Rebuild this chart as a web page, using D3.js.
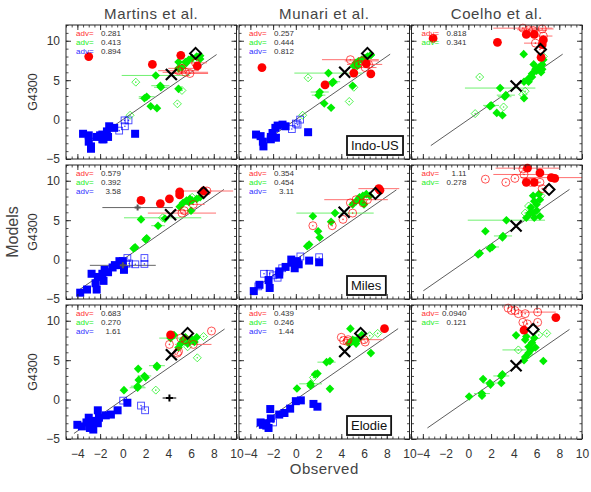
<!DOCTYPE html>
<html>
<head>
<meta charset="utf-8">
<script src="https://cdn.jsdelivr.net/npm/d3@7"></script>
<style>
  body { margin: 0; background: #fff; }
  text { font-family: "Liberation Sans", Arial, sans-serif; }
</style>
</head>
<body>
<div id="chart"></div>
<script>
// Datos: [serie, observado, modelo, error x]
// series: Bf/Bo azul lleno/abierto, Gf/Go verde, Rf/Ro rojo, K gris, P cruz negra
const models = ["Martins et al.", "Munari et al.", "Coelho et al."];
const libraries = ["Indo-US", "Miles", "Elodie"];
const xTicks = [-4, -2, 0, 2, 4, 6, 8, 10];
const yTicks = [-5, 0, 5, 10];

const martinsIndo = [
  ["Rf", -3.0, 8.0], ["Rf", 2.6, 7.0], ["Rf", 5.1, 8.15], ["Rf", 6.55, 6.8],
  ["Ro", 4.9, 6.2, 1.8], ["Ro", 5.5, 6.0, 2.0], ["Ro", 5.9, 5.85, 1.6], ["Ro", 6.4, 7.2, 1.0], ["Ro", 5.2, 6.5, 1.2],
  ["Gf", 2.9, 5.6, 3.0], ["Gf", 3.3, 4.3, 0.8], ["Gf", 3.35, 4.1, 0.6], ["Gf", 2.1, 2.9, 0.7], ["Gf", 1.9, 2.7, 0.5],
  ["Gf", 2.45, 1.7], ["Gf", 3.0, 1.45], ["Gf", 4.9, 7.3], ["Gf", 4.9, 6.5], ["Gf", 5.2, 6.6], ["Gf", 5.5, 7.3],
  ["Gf", 5.8, 7.6], ["Gf", 6.1, 7.8], ["Gf", 6.5, 8.0], ["Gf", 6.8, 8.1], ["Gf", 6.8, 7.7], ["Gf", 5.6, 7.2], ["Gf", 4.9, 3.9],
  ["Go", 1.14, 4.75], ["Go", 5.2, 3.7], ["Go", 4.8, 2.0], ["Go", 0.64, 0.55], ["Go", 6.5, 7.5],
  ["Bf", -3.5, -1.8], ["Bf", -3.0, -2.0], ["Bf", -3.0, -2.8], ["Bf", -2.8, -3.4], ["Bf", -2.8, -3.7], ["Bf", -2.3, -2.2],
  ["Bf", -1.8, -1.9], ["Bf", -1.7, -2.5], ["Bf", -1.4, -1.5], ["Bf", -1.2, -0.85], ["Bf", -0.76, -1.05], ["Bf", -1.8, -2.5],
  ["Bf", 1.08, -1.8], ["Bf", -1.3, -2.2], ["Bf", -2.0, -2.0],
  ["Bo", -0.32, -1.4], ["Bo", 0.18, -0.85], ["Bo", 0.5, -0.1], ["Bo", 0.15, -0.1]
];
const munariIndo = [
  ["Rf", -2.98, 6.6], ["Rf", 2.57, 4.4], ["Rf", 5.1, 5.9], ["Rf", 6.6, 5.8], ["Rf", 6.2, 7.1],
  ["Ro", 4.8, 7.6, 2.5], ["Ro", 5.8, 7.45, 1.5], ["Ro", 6.1, 6.6, 1.0], ["Ro", 6.4, 7.0, 1.2], ["Ro", 5.5, 7.0, 1.0],
  ["Gf", 2.87, 5.9, 3.0], ["Gf", 3.3, 4.8, 0.6], ["Gf", 3.2, 4.65, 0.5], ["Gf", 2.1, 3.5, 0.8], ["Gf", 2.0, 3.1, 0.6],
  ["Gf", 2.5, 2.04], ["Gf", 3.1, 1.5], ["Gf", 5.0, 4.3], ["Gf", 5.1, 6.8], ["Gf", 5.3, 7.2], ["Gf", 5.5, 7.4],
  ["Gf", 5.8, 7.6], ["Gf", 6.1, 7.8], ["Gf", 6.3, 8.0], ["Gf", 5.4, 6.8], ["Gf", 6.6, 8.2],
  ["Go", 1.08, 5.3], ["Go", 4.7, 2.3], ["Go", 5.1, 4.1], ["Go", 0.6, 0.55], ["Go", 6.6, 8.2],
  ["Bf", -3.5, -1.9], ["Bf", -3.1, -2.1], ["Bf", -2.9, -2.8], ["Bf", -2.85, -3.4], ["Bf", -2.2, -2.2], ["Bf", -2.05, -1.7],
  ["Bf", -1.8, -1.05], ["Bf", -1.6, -0.76], ["Bf", -1.17, -0.64], ["Bf", -0.9, -0.85], ["Bf", -2.2, -2.5], ["Bf", -1.75, -2.3],
  ["Bf", 1.08, -1.6],
  ["Bo", -0.35, -1.2], ["Bo", 0.15, -0.64], ["Bo", 0.38, 0.0], ["Bo", 0.0, -0.5]
];
const coelhoIndo = [
  ["Rf", -3.1, 10.3], ["Rf", 2.56, 9.8], ["Rf", 5.1, 10.8], ["Rf", 6.6, 10.1], ["Rf", 6.5, 9.5], ["Rf", 6.4, 7.9], ["Rf", 5.8, 10.8],
  ["Ro", 4.8, 11.6, 2.6], ["Ro", 5.7, 11.3, 1.2], ["Ro", 6.5, 11.5, 1.0], ["Ro", 5.9, 9.7, 1.0], ["Ro", 6.3, 8.9],
  ["Ro", 5.3, 11.4, 1.0], ["Ro", 6.6, 10.6, 0.8],
  ["Gf", 4.87, 8.3], ["Gf", 2.8, 4.0, 3.1], ["Gf", 3.3, 3.1, 0.8], ["Gf", 3.2, 2.9, 0.6], ["Gf", 2.0, 1.8, 0.7], ["Gf", 1.9, 1.7, 0.5],
  ["Gf", 2.5, 0.85], ["Gf", 3.0, 0.55], ["Gf", 4.9, 2.7], ["Gf", 4.9, 4.8], ["Gf", 5.3, 4.8], ["Gf", 5.6, 5.8], ["Gf", 5.9, 6.4],
  ["Gf", 5.75, 7.0], ["Gf", 6.2, 6.6], ["Gf", 6.4, 6.0], ["Gf", 6.5, 7.0], ["Gf", 6.6, 7.6], ["Gf", 5.6, 5.4], ["Gf", 6.0, 6.2],
  ["Gf", 6.5, 6.4], ["Gf", 5.3, 5.2],
  ["Go", 1.0, 5.4], ["Go", 5.0, 3.6], ["Go", 4.8, 3.2], ["Go", 3.1, 1.6], ["Go", 0.6, 0.76], ["Go", 6.6, 8.0]
];
const martinsMiles = [
  ["Rf", 1.6, 7.5], ["Rf", 3.3, 7.1], ["Rf", 4.1, 7.7], ["Rf", 5.0, 8.6], ["Rf", 5.0, 8.2], ["Rf", 7.1, 8.7],
  ["Ro", 5.2, 5.9, 3.0], ["Ro", 6.2, 7.0, 1.0], ["Ro", 7.4, 8.7, 2.3], ["Ro", 7.0, 8.5], ["Ro", 5.4, 6.2, 1.0],
  ["Gf", 1.6, 5.1], ["Gf", 3.1, 4.3, 0.6], ["Gf", 2.1, 2.7], ["Gf", 2.0, 2.55], ["Gf", 1.08, 1.57], ["Gf", 0.95, 1.4],
  ["Gf", 3.7, 5.2], ["Gf", 5.0, 6.7], ["Gf", 5.3, 7.2], ["Gf", 5.6, 7.5], ["Gf", 5.9, 7.7], ["Gf", 6.1, 7.5], ["Gf", 6.0, 6.2],
  ["Gf", 6.5, 7.7], ["Gf", 6.8, 7.9], ["Gf", 5.8, 7.3],
  ["Go", 3.5, 5.3, 3.4], ["Go", 6.1, 7.9],
  ["Bf", -3.75, -4.2], ["Bf", -3.15, -3.8], ["Bf", -2.75, -1.8], ["Bf", -2.4, -3.0], ["Bf", -2.3, -3.8], ["Bf", -2.2, -2.2],
  ["Bf", -1.8, -1.8], ["Bf", -1.6, -1.3], ["Bf", -1.7, -2.7], ["Bf", -1.3, -1.6], ["Bf", -0.9, -1.0], ["Bf", -0.3, -0.2],
  ["Bf", -0.2, -0.7], ["Bf", 0.1, -1.3], ["Bf", 0.0, -0.2], ["Bf", -0.7, -0.7],
  ["Bo", 0.4, 0.2], ["Bo", 0.55, -0.5], ["Bo", 1.1, -0.6], ["Bo", 1.9, 0.2], ["Bo", 1.9, -0.55], ["Bo", 0.3, -0.5],
  ["K", 1.3, 6.6, 3.1], ["K", 0.0, -0.73, 2.9]
];
const munariMiles = [
  ["Rf", 7.3, 9.0, 1.8], ["Rf", 7.4, 8.8],
  ["Ro", 1.5, 4.3], ["Ro", 3.2, 4.3], ["Ro", 4.15, 5.1], ["Ro", 5.0, 5.9], ["Ro", 4.8, 7.2], ["Ro", 5.3, 7.6, 2.8],
  ["Ro", 5.9, 7.2], ["Ro", 6.3, 7.6],
  ["Gf", 1.5, 5.5], ["Gf", 3.45, 5.9, 3.4], ["Gf", 3.1, 4.8], ["Gf", 1.96, 3.6], ["Gf", 2.1, 2.8], ["Gf", 1.17, 1.9],
  ["Gf", 1.0, 1.7], ["Gf", 5.0, 7.0], ["Gf", 5.3, 7.4], ["Gf", 5.6, 7.9], ["Gf", 5.9, 8.1], ["Gf", 6.2, 8.3], ["Gf", 6.0, 7.0],
  ["Gf", 5.7, 7.4], ["Gf", 6.5, 8.1],
  ["Bf", -3.7, -4.0], ["Bf", -3.2, -3.2], ["Bf", -2.4, -2.6], ["Bf", -2.3, -3.6], ["Bf", -1.46, -1.9], ["Bf", -1.46, -1.5],
  ["Bf", -0.9, -0.93], ["Bf", -0.3, -0.4], ["Bf", -0.1, -1.1], ["Bf", 0.1, -0.2], ["Bf", 0.25, -0.6], ["Bf", 1.17, -0.13],
  ["Bf", 2.05, -0.34], ["Bf", -0.4, 0.0],
  ["Bo", -2.8, -1.8], ["Bo", -2.3, -1.8], ["Bo", -1.6, -2.3], ["Bo", -1.2, -1.1], ["Bo", 0.4, 0.4], ["Bo", 2.05, 0.3],
  ["Bo", -3.3, -3.4], ["Bo", -2.0, -2.0]
];
const coelhoMiles = [
  ["Rf", 5.2, 11.6, 2.8], ["Rf", 6.3, 11.0], ["Rf", 7.3, 10.4, 2.7], ["Rf", 7.6, 10.3], ["Rf", 5.1, 9.8], ["Rf", 5.8, 9.8],
  ["Ro", 1.5, 10.2], ["Ro", 3.3, 9.8], ["Ro", 4.1, 10.3], ["Ro", 4.9, 10.8, 2.7], ["Ro", 4.8, 11.5], ["Ro", 5.5, 9.8],
  ["Ro", 6.3, 9.8], ["Ro", 6.5, 9.0],
  ["Gf", 3.35, 5.0, 3.4], ["Gf", 1.5, 3.6], ["Gf", 3.05, 3.0, 0.8], ["Gf", 3.0, 2.8], ["Gf", 2.1, 1.6, 0.6], ["Gf", 1.9, 1.4],
  ["Gf", 0.86, 0.64], ["Gf", 1.0, 0.8], ["Gf", 5.7, 8.1], ["Gf", 5.8, 7.4], ["Gf", 5.5, 6.6], ["Gf", 6.0, 7.0], ["Gf", 6.3, 7.6],
  ["Gf", 5.4, 5.9], ["Gf", 5.1, 5.3], ["Gf", 5.8, 5.3], ["Gf", 6.3, 5.5], ["Gf", 6.0, 6.2], ["Gf", 5.7, 5.9], ["Gf", 6.2, 8.3],
  ["Go", 5.3, 6.8], ["Go", 5.9, 6.4], ["Go", 6.4, 8.1], ["Go", 5.0, 5.9]
];
const martinsElodie = [
  ["Rf", 4.2, 8.2],
  ["Ro", 7.8, 8.7], ["Ro", 6.2, 7.0, 1.6], ["Ro", 4.1, 7.0], ["Ro", 4.8, 5.9], ["Ro", 4.9, 6.1], ["Ro", 5.5, 7.6], ["Ro", 5.1, 7.8],
  ["Gf", 0.1, 1.2], ["Gf", 1.3, 1.7, 0.6], ["Gf", 1.3, 1.5, 0.7], ["Gf", 1.4, 2.5], ["Gf", 1.35, 3.9], ["Gf", 1.9, 3.0, 0.6],
  ["Gf", 2.0, 2.8], ["Gf", 3.0, 4.3, 0.7], ["Gf", 3.0, 4.15], ["Gf", 4.2, 7.8, 1.0], ["Gf", 4.9, 6.6], ["Gf", 5.1, 7.1],
  ["Gf", 5.3, 7.6], ["Gf", 5.5, 7.9], ["Gf", 5.7, 7.1], ["Gf", 6.1, 7.6], ["Gf", 6.3, 7.3], ["Gf", 6.5, 7.9], ["Gf", 4.5, 8.2],
  ["Go", 2.9, 1.2], ["Go", 6.55, 5.3], ["Go", 7.1, 8.0], ["Go", 5.7, 6.7],
  ["Bf", -4.0, -3.2], ["Bf", -3.6, -3.4], ["Bf", -3.2, -2.9], ["Bf", -2.9, -3.6], ["Bf", -2.6, -3.8], ["Bf", -2.5, -2.9],
  ["Bf", -2.8, -2.7], ["Bf", -2.2, -1.36], ["Bf", -2.2, -3.0], ["Bf", -1.5, -2.0], ["Bf", -1.05, -1.9], ["Bf", -0.46, -1.36],
  ["Bf", 0.4, -0.4], ["Bf", -3.0, -2.3], ["Bf", -2.1, -2.3],
  ["Bo", 0.03, -0.13], ["Bo", 1.6, -0.76], ["Bo", 1.96, -1.36],
  ["P", 4.1, 0.2, 0.6]
];
const munariElodie = [
  ["Rf", 7.8, 9.0],
  ["Ro", 4.0, 7.9], ["Ro", 4.2, 7.5], ["Ro", 4.5, 7.4], ["Ro", 6.0, 7.6, 1.7], ["Ro", 6.1, 7.3], ["Ro", 4.6, 7.6],
  ["Gf", 4.8, 9.0], ["Gf", 0.1, 1.4], ["Gf", 1.3, 2.0, 1.0], ["Gf", 1.3, 1.75], ["Gf", 1.7, 3.2], ["Gf", 1.9, 3.3],
  ["Gf", 2.7, 4.75, 0.8], ["Gf", 3.0, 4.9], ["Gf", 3.0, 1.36], ["Gf", 6.6, 5.9], ["Gf", 4.9, 7.3], ["Gf", 5.2, 7.5],
  ["Gf", 5.5, 7.7], ["Gf", 5.8, 8.2], ["Gf", 5.3, 7.1], ["Gf", 5.0, 7.6], ["Gf", 4.7, 7.1],
  ["Go", 1.55, 2.8], ["Go", 7.2, 8.4], ["Go", 6.5, 8.1],
  ["Bf", -3.1, -2.9], ["Bf", -2.7, -3.0], ["Bf", -2.4, -3.6], ["Bf", -2.2, -2.4], ["Bf", -2.25, -1.2], ["Bf", -1.46, -1.9],
  ["Bf", -1.0, -1.7], ["Bf", -0.5, -1.15], ["Bf", 0.0, -0.2], ["Bf", 0.44, -0.1], ["Bf", 1.55, -0.55], ["Bf", 1.9, -0.9],
  ["Bf", -2.6, -3.3], ["Bf", -2.9, -3.2],
  ["Bo", -2.0, -2.9]
];
const coelhoElodie = [
  ["Rf", 7.7, 10.4], ["Rf", 4.9, 8.8],
  ["Ro", 3.5, 11.6], ["Ro", 4.1, 11.3], ["Ro", 4.4, 10.9], ["Ro", 6.1, 11.1, 1.6], ["Ro", 4.8, 9.8], ["Ro", 5.2, 9.6],
  ["Ro", 6.1, 9.8], ["Ro", 3.8, 11.3], ["Ro", 5.0, 10.9],
  ["Gf", 4.2, 8.15], ["Gf", 0.07, 0.4], ["Gf", 1.2, 0.76, 0.7], ["Gf", 1.2, 0.5], ["Gf", 1.3, 2.6], ["Gf", 1.9, 2.1, 0.6],
  ["Gf", 1.95, 1.9], ["Gf", 2.9, 2.1], ["Gf", 2.9, 3.0, 0.7], ["Gf", 3.0, 3.2], ["Gf", 6.6, 4.9], ["Gf", 5.0, 7.6],
  ["Gf", 5.3, 6.7], ["Gf", 5.3, 5.9], ["Gf", 5.0, 5.4], ["Gf", 5.6, 7.2], ["Gf", 5.5, 6.3], ["Gf", 5.8, 7.8], ["Gf", 5.9, 6.6],
  ["Gf", 4.9, 5.0], ["Gf", 5.1, 8.0],
  ["Go", 4.4, 6.3, 1.4], ["Go", 6.9, 8.4], ["Go", 6.2, 8.2], ["Go", 5.3, 5.7]
];

// Sol (X) y Arcturus (rombo negro) por panel
const sunPoints = [[[4.27, 5.73], [4.3, 6.0], [4.2, 4.25]], [[4.2, 5.7], [4.25, 6.0], [4.2, 4.25]], [[4.27, 5.7], [4.3, 6.1], [4.2, 4.3]]];
const arcturusPoints = [[[6.4, 8.4], [6.3, 8.4], [6.35, 8.9]], [[7.1, 8.5], [7.0, 8.4], [7.1, 8.9]], [[5.7, 8.4], [5.7, 8.4], [5.7, 8.9]]];
// recta 1:1, rango en observado
const lineRange = [[[-2.9, 8.25], [-2.87, 8.3], [-3.3, 8.3]], [[-4.0, 8.9], [-3.95, 8.85], [-3.96, 8.9]], [[-4.3, 8.95], [-3.5, 9.0], [-3.6, 8.9]]];
// adv: rojo, verde, azul
const advIndo = [["0.281", "0.413", "0.894"], ["0.257", "0.444", "0.812"], ["0.818", "0.341"]];
const advMiles = [["0.579", "0.392", "3.58"], ["0.354", "0.454", "3.11"], ["1.11", "0.278"]];
const advElodie = [["0.683", "0.270", "1.61"], ["0.439", "0.246", "1.44"], ["0.0940", "0.121"]];

const panelData = [[martinsIndo, munariIndo, coelhoIndo], [martinsMiles, munariMiles, coelhoMiles], [martinsElodie, munariElodie, coelhoElodie]];
const advData = [advIndo, advMiles, advElodie];

// Dimensiones
const width = 591;
const height = 492;
const colLeft = [66, 239, 411.5];
const rowTop = [25, 165, 305];
const panelW = 170.5;
const panelH = 134;

const COLORS = { R: "#ff0000", G: "#00ee00", B: "#0000ff", K: "#555555", P: "#000000" };
const BAR_COLORS = { R: "#ff7070", G: "#70f070", B: "#7070ff", K: "#666666", P: "#000000" };
const ADV_COLORS = ["#ff3030", "#22ee22", "#3030ff"];
const TEXT = "#333";

const svg = d3.select("#chart").append("svg")
  .attr("width", width)
  .attr("height", height);

const x = d3.scaleLinear().domain([-5, 10]).range([0, panelW]);
const y = d3.scaleLinear().domain([-5, 12]).range([panelH, 0]);

const xMinor = d3.range(-5, 10.01, 0.5);
const yMinor = d3.range(-5, 12.01, 1);

const order = ["Bo", "Bf", "Go", "Gf", "Ro", "Rf", "K", "P"];

function drawPoint(g, d) {
  const code = d[0];
  const c = COLORS[code[0]];
  const px = x(d[1]), py = y(d[2]);
  const open = code[1] === "o";
  if (code === "K" || code === "P") {
    const s = code === "P" ? 3.5 : 3;
    g.append("path")
      .attr("d", `M${px - s},${py}H${px + s}M${px},${py - s}V${py + s}`)
      .attr("stroke", c).attr("stroke-width", 2);
    return;
  }
  let shape;
  if (code[0] === "B") {
    const s = open ? 3.4 : 4;
    shape = g.append("rect").attr("x", px - s).attr("y", py - s).attr("width", 2 * s).attr("height", 2 * s);
  } else if (code[0] === "G") {
    const s = open ? 4 : 4.3;
    shape = g.append("path").attr("d", `M${px},${py - s}L${px + s},${py}L${px},${py + s}L${px - s},${py}Z`);
  } else {
    shape = g.append("circle").attr("cx", px).attr("cy", py).attr("r", open ? 4 : 4.4);
  }
  if (open) {
    shape.attr("fill", "none").attr("stroke", c).attr("stroke-width", 0.9).attr("stroke-opacity", 0.75);
    g.append("circle").attr("cx", px).attr("cy", py).attr("r", 0.8).attr("fill", c).attr("opacity", 0.75);
  } else {
    shape.attr("fill", c);
  }
}

function addTicks(g, r, c) {
  const axes = [
    [d3.axisBottom, x, xTicks, xMinor, `translate(0,${panelH})`, r === 2],
    [d3.axisTop, x, xTicks, xMinor, "translate(0,0)", false],
    [d3.axisLeft, y, yTicks, yMinor, "translate(0,0)", c === 0],
    [d3.axisRight, y, yTicks, yMinor, `translate(${panelW},0)`, false]
  ];
  axes.forEach(([axisFn, scale, major, minor, tr, labels]) => {
    g.append("g").attr("transform", tr)
      .call(axisFn(scale).tickValues(minor).tickSize(-2.5).tickFormat(""))
      .call(a => a.select(".domain").remove())
      .selectAll("line").attr("stroke", "#222").attr("stroke-width", 0.8);
    const ax = g.append("g").attr("transform", tr)
      .call(axisFn(scale).tickValues(major).tickSize(-5).tickPadding(axisFn === d3.axisBottom ? 10 : 6)
        .tickFormat(labels ? d3.format("d") : ""));
    ax.select(".domain").remove();
    ax.selectAll("line").attr("stroke", "#222").attr("stroke-width", 0.9);
    ax.selectAll("text").attr("fill", TEXT).style("font-size", "12px")
      .style("font-family", "'Liberation Sans', Arial, sans-serif");
  });
}

panelData.forEach((row, r) => {
  row.forEach((data, c) => {
    const g = svg.append("g").attr("transform", `translate(${colLeft[c]},${rowTop[r]})`);

    // recta 1:1
    const [l0, l1] = lineRange[r][c];
    g.append("line")
      .attr("x1", x(l0)).attr("y1", y(l0)).attr("x2", x(l1)).attr("y2", y(l1))
      .attr("stroke", "#333").attr("stroke-width", 0.8);

    // barras de error
    g.selectAll(".err").data(data.filter(d => d[3])).join("line")
      .attr("x1", d => x(d[1] - d[3])).attr("x2", d => x(d[1] + d[3]))
      .attr("y1", d => y(d[2])).attr("y2", d => y(d[2]))
      .attr("stroke", d => BAR_COLORS[d[0][0]])
      .attr("stroke-width", 1);

    order.forEach(code => {
      data.filter(d => d[0] === code).forEach(d => drawPoint(g, d));
    });

    // Sol y Arcturus
    const [sx, sy] = sunPoints[r][c];
    g.append("path")
      .attr("d", `M${x(sx) - 5.5},${y(sy) - 5.5}L${x(sx) + 5.5},${y(sy) + 5.5}M${x(sx) - 5.5},${y(sy) + 5.5}L${x(sx) + 5.5},${y(sy) - 5.5}`)
      .attr("stroke", "#000").attr("stroke-width", 2.2);
    const [ax_, ay_] = arcturusPoints[r][c];
    const s = 5.5;
    g.append("path")
      .attr("d", `M${x(ax_)},${y(ay_) - s}L${x(ax_) + s},${y(ay_)}L${x(ax_)},${y(ay_) + s}L${x(ax_) - s},${y(ay_)}Z`)
      .attr("fill", "none").attr("stroke", "#000").attr("stroke-width", 2);

    // marco
    g.append("rect").attr("width", panelW).attr("height", panelH)
      .attr("fill", "none").attr("stroke", "#222").attr("stroke-width", 1);
    addTicks(g, r, c);

    // adv
    advData[r][c].forEach((v, i) => {
      const ty = 10.5 + i * 9.4;
      g.append("text").attr("x", 10).attr("y", ty)
        .attr("fill", ADV_COLORS[i]).style("font-size", "8px").text("adv=");
      g.append("text").attr("x", 55).attr("y", ty).attr("text-anchor", "end")
        .attr("fill", TEXT).style("font-size", "8px").text(v);
    });

    // nombre de la libreria
    if (c === 1) {
      const box = g.append("rect");
      const label = g.append("text").attr("x", 112).attr("y", panelH - 9)
        .attr("fill", "#111").style("font-size", "13px").text(libraries[r]);
      const bb = label.node().getBBox();
      box.attr("x", bb.x - 4).attr("y", panelH - 23)
        .attr("width", bb.width + 8).attr("height", 19)
        .attr("fill", "#fff").attr("stroke", "#111").attr("stroke-width", 1.8);
    }
  });
  // etiqueta y
  svg.append("text")
    .attr("transform", `translate(37,${rowTop[r] + panelH / 2}) rotate(-90)`)
    .attr("text-anchor", "middle").attr("fill", TEXT).style("font-size", "12.5px")
    .text("G4300");
});

// titulos
models.forEach((m, c) => {
  svg.append("text")
    .attr("x", colLeft[c] + panelW / 2).attr("y", 19)
    .attr("text-anchor", "middle").attr("fill", "#444").style("font-size", "15px")
    .style("letter-spacing", "0.6px")
    .text(m);
});

svg.append("text")
  .attr("transform", `translate(18,${rowTop[1] + panelH / 2}) rotate(-90)`)
  .attr("text-anchor", "middle").attr("fill", "#444").style("font-size", "16px")
  .text("Models");

svg.append("text")
  .attr("x", colLeft[1] + panelW / 2).attr("y", 474)
  .attr("text-anchor", "middle").attr("fill", "#444").style("font-size", "15px")
  .style("letter-spacing", "0.5px")
  .text("Observed");
</script>
</body>
</html>
